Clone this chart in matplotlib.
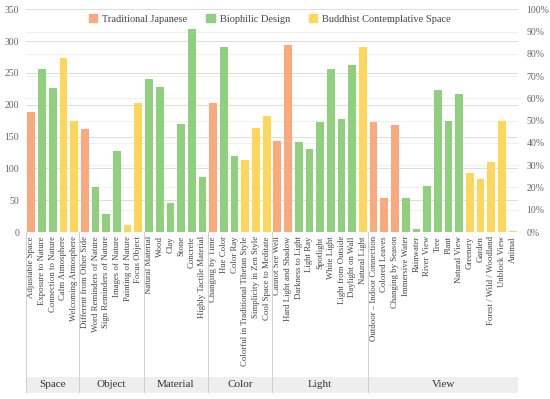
import numpy as np
import matplotlib
matplotlib.use("Agg")
import matplotlib.pyplot as plt
from matplotlib.patches import Patch, Rectangle

plt.rcParams['font.family'] = ['Liberation Serif', 'DejaVu Serif']

groups = ['Space', 'Object', 'Material', 'Color', 'Light', 'View']
group_sizes = [5, 6, 6, 6, 9, 14]

labels = [
    'Adjustable Space', 'Exposure to Nature', 'Connection to Nature', 'Calm Atmosphere', 'Welcoming Atmosphere',
    'Different from Other Side', 'Word Reminders of Nature', 'Sign Reminders of Nature', 'Images of Nature',
    'Painting of Nature', 'Focus Object',
    'Natural Material', 'Wood', 'Clay', 'Stone', 'Concrete', 'Highly Tactile Material',
    'Changing by Time', 'Hue Color', 'Color Ray', 'Colorful in Traditional Tibetan Style',
    'Simplicity in Zen Style', 'Cool Space to Meditate',
    'Cannot See Well', 'Hard Light and Shadow', 'Darkness to Light', 'Light Ray', 'Spotlight', 'White Light',
    'Light from Outside', 'Daylight on Wall', 'Natural Light',
    'Outdoor – Indoor Connection', 'Colored Leaves', 'Changing by Season', 'Immersive Water', 'Rainwater',
    'River View', 'Tree', 'Plant', 'Natural View', 'Greenery', 'Garden', 'Forest / Wild / Woodland',
    'Unblock View', 'Animal',
]

values = [
    189, 256, 227, 273, 175,
    162, 71, 28, 128, 11, 202,
    240, 228, 46, 170, 319, 87,
    203, 290, 119, 113, 164, 182,
    143, 294, 141, 130, 173, 256, 177, 262, 290,
    173, 53, 168, 53, 4, 73, 223, 175, 217, 93, 83, 110, 174, 1.5,
]

# T = Traditional Japanese, B = Biophilic Design, Z = Buddhist Contemplative Space
kinds = list('TBBZZ' 'TBBBZZ' 'BBBBBB' 'TBBZZZ' 'TTBBBBBBZ' 'TTTBBBBBBZZZZZ')

colors = {'T': '#F9A97B', 'B': '#8FCF7E', 'Z': '#FED65B'}
names = {'T': 'Traditional Japanese', 'B': 'Biophilic Design', 'Z': 'Buddhist Contemplative Space'}

W, H = 550, 399
fig = plt.figure(figsize=(W / 100, H / 100), dpi=100)

x0, x1 = 26, 518
ytop, ybot = 9.3, 232
ax = fig.add_axes([x0 / W, 1 - ybot / H, (x1 - x0) / W, (ybot - ytop) / H])

x = np.arange(len(values))
ax.bar(x, values, width=0.72, color=[colors[k] for k in kinds], zorder=3)
ax.set_xlim(-0.5, len(values) - 0.5)
ax.set_ylim(0, 350)
ax.set_yticks(np.arange(0, 351, 50))
ax.tick_params(axis='y', length=0, labelsize=7, colors='#666666', pad=5)
for s in ax.spines.values():
    s.set_visible(False)
ax.set_xticks(x)
ax.set_xticklabels(labels, rotation=90, fontsize=6.3, color='#444444')
ax.tick_params(axis='x', length=0, pad=3)

# grid: major every 50, lighter lines on the percent scale
for v in np.arange(50, 351, 50):
    ax.axhline(v, color='#dddddd', lw=0.7, zorder=1)
for p in np.arange(0.1, 1.0, 0.1):
    ax.axhline(p * 350, color='#eeeeee', lw=0.6, zorder=0)

ax2 = ax.twinx()
ax2.set_ylim(0, 1)
ax2.set_yticks(np.arange(0, 1.01, 0.1))
ax2.set_yticklabels([f'{int(round(p * 100))}%' for p in np.arange(0, 1.01, 0.1)])
ax2.tick_params(axis='y', length=0, labelsize=7, colors='#666666', pad=6)
for s in ax2.spines.values():
    s.set_visible(False)

# category table below the bars
tb_bot = 393
band_top = 377
tax = fig.add_axes([x0 / W, 1 - tb_bot / H, (x1 - x0) / W, (tb_bot - ybot) / H])
tax.set_xlim(-0.5, len(values) - 0.5)
tax.set_ylim(tb_bot, ybot)
tax.axis('off')
tax.patch.set_alpha(0)
tax.add_patch(Rectangle((-0.5, band_top), len(values), tb_bot - band_top,
                        facecolor='#eeeeee', edgecolor='none', zorder=0))
edges = np.concatenate([[0], np.cumsum(group_sizes)]) - 0.5
for e in edges:
    tax.plot([e, e], [ybot, tb_bot], color='#d0d0d0', lw=0.7, zorder=1)
for g, a, b in zip(groups, edges[:-1], edges[1:]):
    tax.text((a + b) / 2, (band_top + tb_bot) / 2, g, ha='center', va='center',
             fontsize=8, color='#333333')

handles = [Patch(color=colors[k], label=names[k]) for k in 'TBZ']
fig.legend(handles=handles, loc='center', bbox_to_anchor=(270 / W, 1 - 19 / H), ncol=3,
           frameon=False, fontsize=7.5, handlelength=0.8, handleheight=0.8,
           handletextpad=0.5, columnspacing=1.8, labelcolor='#444444')

fig.savefig('out.png', dpi=100)
